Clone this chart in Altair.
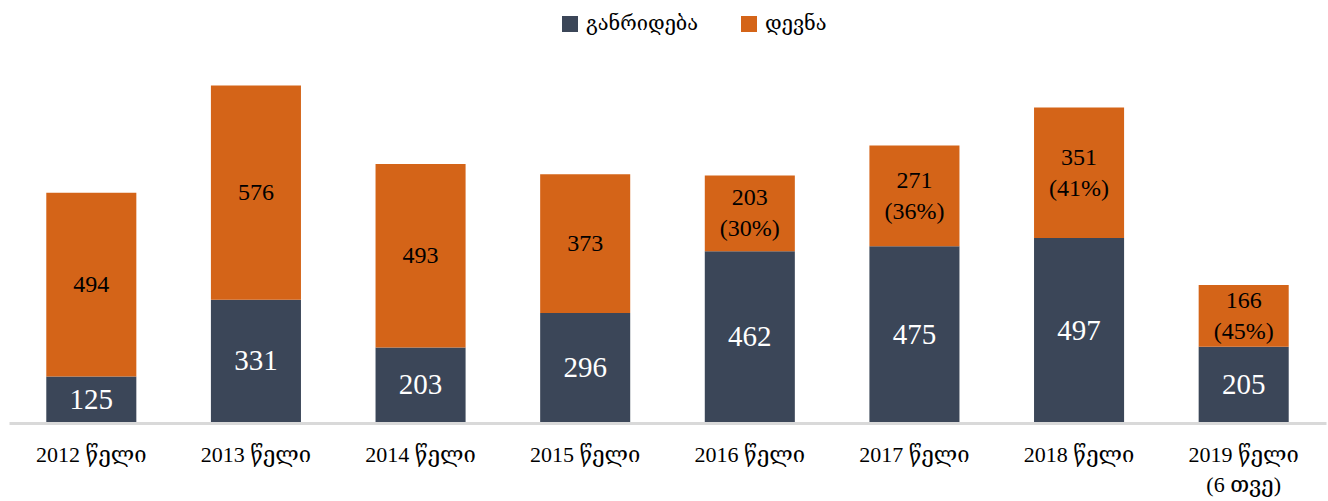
import altair as alt
import pandas as pd

categories = ["2012 წელი", "2013 წელი", "2014 წელი", "2015 წელი",
              "2016 წელი", "2017 წელი", "2018 წელი", "2019 წელი\n(6 თვე)"]
series_names = ["განრიდება", "დევნა"]
diversion = [125, 331, 203, 296, 462, 475, 497, 205]
prosecution = [494, 576, 493, 373, 203, 271, 351, 166]
prosecution_labels = ["494", "576", "493", "373", "203\n(30%)", "271\n(36%)",
                      "351\n(41%)", "166\n(45%)"]

rows = []
for i, c in enumerate(categories):
    rows.append({"cat": c, "series": series_names[0], "value": diversion[i],
                 "label": str(diversion[i]), "ord": 0})
    rows.append({"cat": c, "series": series_names[1], "value": prosecution[i],
                 "label": prosecution_labels[i], "ord": 1})
df = pd.DataFrame(rows)

DARK = "#3b4658"
ORANGE = "#d46418"
FONT = "Liberation Serif, DejaVu Serif, serif"

base = alt.Chart(df).transform_stack(
    stack="value", groupby=["cat"], as_=["v0", "v1"],
    sort=[alt.SortField("ord", order="ascending")]
).transform_calculate(mid="(datum.v0 + datum.v1) / 2",
                      multi="indexof(datum.label, '\\n') >= 0 ? 1 : 0")

x_enc = alt.X("cat:N", sort=categories, title=None,
              scale=alt.Scale(paddingInner=0.453, paddingOuter=0.2265),
              axis=alt.Axis(labelAngle=0, ticks=False, domainColor="#d9d9d9",
                            domainWidth=3, labelFontSize=22, labelFont=FONT,
                            labelColor="#000000", labelPadding=21,
                            labelLineHeight=30, zindex=1,
                            labelExpr="split(datum.label, '\\n')"))

bars = base.mark_bar().encode(
    x=x_enc,
    y=alt.Y("v0:Q", scale=alt.Scale(domain=[0, 1000]), axis=None),
    y2="v1:Q",
    color=alt.Color("series:N", sort=series_names,
                    scale=alt.Scale(domain=series_names, range=[DARK, ORANGE]),
                    legend=alt.Legend(title=None, orient="none", direction="horizontal",
                                      legendX=551, legendY=-37, symbolType="square",
                                      symbolSize=256, symbolStrokeWidth=0,
                                      labelFontSize=20, labelFont=FONT,
                                      labelColor="#000000", columnPadding=40,
                                      labelOffset=6)),
)

txt_dark = base.transform_filter(alt.datum.ord == 0).mark_text(
    color="white", fontSize=29, font=FONT, baseline="middle"
).encode(x=alt.X("cat:N", sort=categories), y="mid:Q", text="label:N")

txt_orange1 = base.transform_filter(
    (alt.datum.ord == 1) & (alt.datum.multi == 0)
).mark_text(
    color="black", fontSize=24, font=FONT, baseline="middle"
).encode(x=alt.X("cat:N", sort=categories), y="mid:Q", text="label:N")

txt_orange2 = base.transform_filter(
    (alt.datum.ord == 1) & (alt.datum.multi == 1)
).mark_text(
    color="black", fontSize=24, font=FONT, baseline="middle", lineBreak="\n",
    lineHeight=31, dy=-15
).encode(x=alt.X("cat:N", sort=categories), y="mid:Q", text="label:N")

chart = alt.layer(bars, txt_dark, txt_orange1, txt_orange2).properties(
    width=1317, height=372,
    background="white",
    autosize=alt.AutoSizeParams(type="none"),
    padding={"left": 9, "top": 51, "right": 2, "bottom": 78},
).configure_view(stroke=None)

chart.save("out.html", embed_options={"renderer": "svg", "actions": False})
